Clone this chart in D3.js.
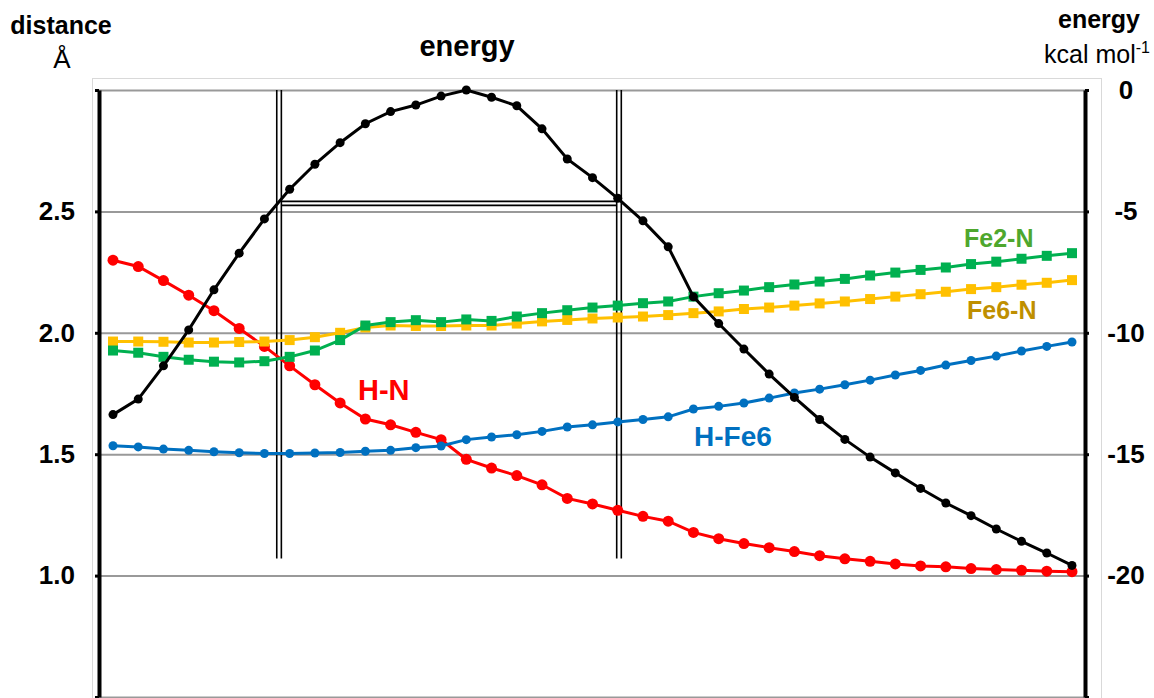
<!DOCTYPE html>
<html>
<head>
<meta charset="utf-8">
<script src="https://cdn.jsdelivr.net/npm/d3@7"></script>
<style>
  body { margin: 0; background: #fff; }
  svg text { font-family: "Liberation Sans", Arial, sans-serif; }
</style>
</head>
<body>
<div id="chart"></div>
<script>
// reaction coordinate steps (39 points)
const steps = d3.range(39);

// energy, kcal/mol (right axis)
const energy = [-13.37, -12.73, -11.36, -9.88, -8.23, -6.72, -5.31, -4.09, -3.06, -2.17, -1.39,
  -0.89, -0.62, -0.25, 0, -0.30, -0.65, -1.60, -2.84, -3.61, -4.46,
  -5.39, -6.46, -8.52, -9.62, -10.67, -11.70, -12.66, -13.57, -14.39, -15.12,
  -15.77, -16.41, -17.01, -17.53, -18.08, -18.59, -19.07, -19.58];

// distances, Å (left axis)
const hN = [2.299, 2.273, 2.215, 2.155, 2.091, 2.018, 1.944, 1.864, 1.786, 1.711, 1.645,
  1.621, 1.590, 1.560, 1.479, 1.443, 1.412, 1.374, 1.318, 1.295, 1.269,
  1.244, 1.224, 1.178, 1.152, 1.132, 1.115, 1.099, 1.082, 1.069, 1.059,
  1.048, 1.040, 1.036, 1.029, 1.025, 1.022, 1.018, 1.016];
const hFe6 = [1.535, 1.530, 1.521, 1.516, 1.510, 1.506, 1.503, 1.503, 1.505, 1.507, 1.512,
  1.516, 1.527, 1.534, 1.560, 1.571, 1.580, 1.594, 1.612, 1.621, 1.633,
  1.643, 1.654, 1.686, 1.697, 1.711, 1.731, 1.752, 1.768, 1.786, 1.805,
  1.826, 1.845, 1.867, 1.886, 1.904, 1.925, 1.944, 1.962];
const fe2N = [1.927, 1.918, 1.901, 1.889, 1.881, 1.878, 1.883, 1.901, 1.927, 1.970, 2.030,
  2.044, 2.052, 2.044, 2.055, 2.049, 2.067, 2.081, 2.093, 2.104, 2.112,
  2.122, 2.129, 2.149, 2.163, 2.174, 2.188, 2.199, 2.211, 2.222, 2.236,
  2.248, 2.259, 2.269, 2.283, 2.293, 2.305, 2.317, 2.328];
const fe6N = [1.964, 1.964, 1.963, 1.960, 1.960, 1.962, 1.964, 1.970, 1.982, 2.000, 2.022,
  2.030, 2.028, 2.028, 2.030, 2.030, 2.038, 2.047, 2.053, 2.059, 2.063,
  2.067, 2.073, 2.081, 2.088, 2.098, 2.104, 2.112, 2.121, 2.129, 2.139,
  2.149, 2.159, 2.169, 2.180, 2.188, 2.198, 2.206, 2.217];

// tick values / labels
const distTicks = [0.5, 1.0, 1.5, 2.0, 2.5, 3.0];
const distLabels = ['', '1.0', '1.5', '2.0', '2.5', ''];
const energyTicks = [-25, -20, -15, -10, -5, 0];
const energyLabels = ['', '-20', '-15', '-10', '-5', '0'];

// double-line marker: energy level and the steps where it crosses the curve
const markerEnergy = -4.67;
const markerSteps = [6.58, 20.05];
const markerBottom = 1.07; // Å

const W = 1154, H = 698;
const plotLeft = 99, plotRight = 1085, plotTop = 90, plotBottom = 697;

const svg = d3.select('#chart').append('svg')
  .attr('width', W).attr('height', H);

const x = d3.scaleLinear().domain([0, 38]).range([113, 1072]);
const yD = d3.scaleLinear().domain([0.5, 3.0]).range([plotBottom, plotTop]);
const yE = d3.scaleLinear().domain([-25, 0]).range([plotBottom, plotTop]);

// light frame
svg.append('rect')
  .attr('x', 92.5).attr('y', 78.5).attr('width', 1009).attr('height', 640)
  .attr('fill', 'none').attr('stroke', '#d9d9d9').attr('stroke-width', 1);

// gridlines
svg.append('g')
  .attr('transform', `translate(${plotLeft},0)`)
  .call(d3.axisLeft(yD).tickValues(distTicks).tickSize(-(plotRight - plotLeft)).tickFormat(''))
  .call(g => g.select('.domain').remove())
  .call(g => g.selectAll('line').attr('stroke', '#999').attr('stroke-width', 2));

// marker double lines
const mk = svg.append('g').attr('stroke', '#000').attr('stroke-width', 1.6).attr('fill', 'none');
markerSteps.forEach(s => {
  [-2.3, 2.3].forEach(o => {
    mk.append('line')
      .attr('x1', x(s) + o).attr('x2', x(s) + o)
      .attr('y1', plotTop).attr('y2', yD(markerBottom));
  });
});
[-2, 2].forEach(o => {
  mk.append('line')
    .attr('x1', x(markerSteps[0]) + 2.3).attr('x2', x(markerSteps[1]) - 2.3)
    .attr('y1', yE(markerEnergy) + o).attr('y2', yE(markerEnergy) + o);
});

// series
const series = [
  { values: hN, y: yD, color: '#ff0000', shape: 'circle', r: 5.5 },
  { values: hFe6, y: yD, color: '#0070c0', shape: 'circle', r: 4.5 },
  { values: fe6N, y: yD, color: '#ffc000', shape: 'square', r: 5 },
  { values: fe2N, y: yD, color: '#00b050', shape: 'square', r: 5 },
  { values: energy, y: yE, color: '#000000', shape: 'circle', r: 4.5 }
];

series.forEach(s => {
  const pts = steps.map(i => ({ i, v: s.values[i] }));
  const line = d3.line()
    .x(d => x(d.i))
    .y(d => s.y(d.v));
  svg.append('path')
    .datum(pts)
    .attr('fill', 'none')
    .attr('stroke', s.color)
    .attr('stroke-width', 3)
    .attr('d', line);
  if (s.shape === 'circle') {
    svg.append('g').selectAll('circle')
      .data(pts).enter().append('circle')
      .attr('cx', d => x(d.i))
      .attr('cy', d => s.y(d.v))
      .attr('r', s.r)
      .attr('fill', s.color);
  } else {
    svg.append('g').selectAll('rect')
      .data(pts).enter().append('rect')
      .attr('x', d => x(d.i) - s.r)
      .attr('y', d => s.y(d.v) - s.r)
      .attr('width', s.r * 2).attr('height', s.r * 2)
      .attr('fill', s.color);
  }
});

// left axis
svg.append('g')
  .attr('transform', `translate(${plotLeft},0)`)
  .call(d3.axisLeft(yD).tickValues(distTicks).tickSize(4).tickSizeOuter(0).tickPadding(20)
    .tickFormat((d, i) => distLabels[i]))
  .call(g => g.select('.domain').attr('stroke-width', 4))
  .call(g => g.selectAll('line').attr('stroke-width', 3))
  .call(g => g.selectAll('text').attr('font-size', 26).attr('font-weight', 'bold').attr('fill', '#000'));

// right axis
svg.append('g')
  .attr('transform', `translate(${plotRight},0)`)
  .call(d3.axisRight(yE).tickValues(energyTicks).tickSize(4).tickSizeOuter(0)
    .tickFormat((d, i) => energyLabels[i]))
  .call(g => g.select('.domain').attr('stroke-width', 4))
  .call(g => g.selectAll('line').attr('stroke-width', 3))
  .call(g => g.selectAll('text').attr('x', 41).attr('text-anchor', 'middle')
    .attr('font-size', 26).attr('font-weight', 'bold').attr('fill', '#000'));

// series labels
const labels = [
  { text: 'H-N', color: '#ff0000', x: 358, y: 400, size: 29 },
  { text: 'H-Fe6', color: '#0070c0', x: 694, y: 446, size: 28 },
  { text: 'Fe2-N', color: '#4ea72e', x: 964, y: 247, size: 25 },
  { text: 'Fe6-N', color: '#bf8f00', x: 967, y: 319, size: 25 }
];
svg.append('g').selectAll('text')
  .data(labels).enter().append('text')
  .attr('x', d => d.x).attr('y', d => d.y)
  .attr('fill', d => d.color)
  .attr('font-size', d => d.size)
  .attr('font-weight', 'bold')
  .text(d => d.text);

// titles
svg.append('text').attr('x', 61).attr('y', 34).attr('text-anchor', 'middle')
  .attr('font-size', 25).attr('font-weight', 'bold').text('distance');
svg.append('text').attr('x', 62).attr('y', 68).attr('text-anchor', 'middle')
  .attr('font-size', 26).text('Å');
svg.append('text').attr('x', 467).attr('y', 56).attr('text-anchor', 'middle')
  .attr('font-size', 29).attr('font-weight', 'bold').text('energy');
svg.append('text').attr('x', 1099).attr('y', 28).attr('text-anchor', 'middle')
  .attr('font-size', 25).attr('font-weight', 'bold').text('energy');
const unit = svg.append('text').attr('x', 1044).attr('y', 63).attr('font-size', 25);
unit.append('tspan').text('kcal mol');
unit.append('tspan').attr('dy', -10).attr('font-size', 16).text('-1');
</script>
</body>
</html>
